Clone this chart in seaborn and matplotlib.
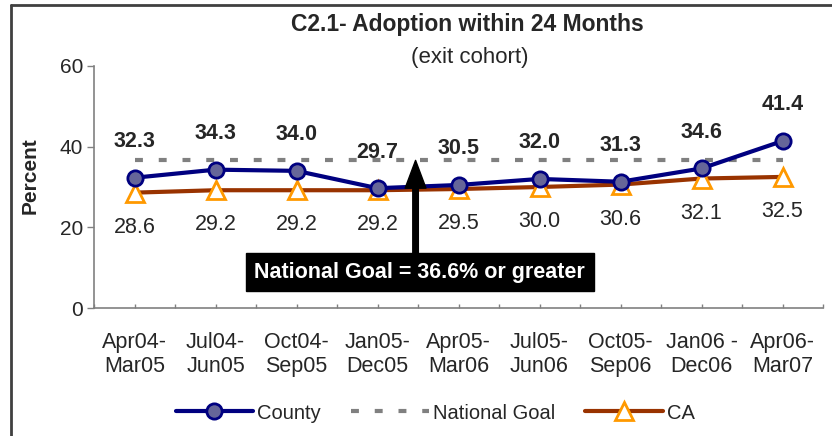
import matplotlib
matplotlib.use("Agg")
import matplotlib.pyplot as plt
import seaborn as sns
import pandas as pd
from matplotlib.lines import Line2D

categories = ["Apr04-\nMar05", "Jul04-\nJun05", "Oct04-\nSep05", "Jan05-\nDec05",
              "Apr05-\nMar06", "Jul05-\nJun06", "Oct05-\nSep06", "Jan06 -\nDec06",
              "Apr06-\nMar07"]
county = [32.3, 34.3, 34.0, 29.7, 30.5, 32.0, 31.3, 34.6, 41.4]
ca = [28.6, 29.2, 29.2, 29.2, 29.5, 30.0, 30.6, 32.1, 32.5]
national_goal = [36.6] * 9
yticks = [0, 20, 40, 60]

sns.set_theme(style="white")
plt.rcParams['font.family'] = ['Liberation Sans', 'DejaVu Sans']

df = pd.DataFrame({"x": range(len(categories)), "County": county,
                   "National Goal": national_goal, "CA": ca})

fig = plt.figure(figsize=(8.32, 4.36), dpi=100)
ax = fig.add_axes([94/832, 1-308/436, (823-94)/832, (308-66)/436])

goal_style = (0, (1.9, 3.8))
sns.lineplot(data=df, x="x", y="National Goal", ax=ax, color="#808080", lw=3,
             linestyle=goal_style, label="National Goal", zorder=2)
sns.lineplot(data=df, x="x", y="CA", ax=ax, color="#993300", lw=3, marker="^",
             markersize=13, markerfacecolor="white", markeredgecolor="#FF9900",
             markeredgewidth=2, label="CA", zorder=3)
sns.lineplot(data=df, x="x", y="County", ax=ax, color="#000080", lw=3, marker="o",
             markersize=11, markerfacecolor="#666699", markeredgecolor="#000080",
             markeredgewidth=2, label="County", zorder=4)

for i, v in enumerate(county):
    ax.annotate(f"{v:.1f}", (i, v), xytext=(0, 26), textcoords="offset points",
                ha="center", va="center", fontsize=15.5, fontweight="bold")
for i, v in enumerate(ca):
    ax.annotate(f"{v:.1f}", (i, v), xytext=(0, -25), textcoords="offset points",
                ha="center", va="center", fontsize=15.5)

ax.set_xlim(-0.5, len(categories) - 0.5)
ax.set_ylim(0, 60)
ax.set_yticks(yticks)
ax.set_xticks(range(len(categories)))
ax.set_xticklabels(categories, fontsize=15.5, linespacing=1.2)
ax.set_xticks([i + 0.5 for i in range(-1, len(categories))], minor=True)
ax.tick_params(axis="x", which="both", direction="in", length=3, width=1,
               color="#808080", pad=17, bottom=True)
ax.tick_params(axis="y", direction="out", length=5, width=1, color="#808080",
               labelsize=15, pad=3, left=True)
ax.set_xlabel("")
ax.set_ylabel("")
for s in ["top", "right"]:
    ax.spines[s].set_visible(False)
for s in ["left", "bottom"]:
    ax.spines[s].set_color("#808080")
    ax.spines[s].set_linewidth(1.2)
ax.grid(False)

# National goal annotation
ax.annotate("", xy=(3.47, 36.6), xytext=(3.47, 13.6),
            arrowprops=dict(facecolor="black", edgecolor="black", width=4,
                            headwidth=15, headlength=20, shrink=0), zorder=5)
ax.text(3.52, 8.9, "National Goal = 36.6% or greater", ha="center", va="center",
        fontsize=15.5, fontweight="bold", color="white", zorder=6,
        bbox=dict(boxstyle="square,pad=0.4", facecolor="black", edgecolor="black"))

if ax.get_legend() is not None:
    ax.get_legend().remove()

handles = [
    Line2D([], [], color="#000080", lw=3, marker="o", markersize=11,
           markerfacecolor="#666699", markeredgecolor="#000080", markeredgewidth=2),
    Line2D([], [], color="#808080", lw=3, linestyle=goal_style),
    Line2D([], [], color="#993300", lw=3, marker="^", markersize=13,
           markerfacecolor="white", markeredgecolor="#FF9900", markeredgewidth=2),
]
fig.legend(handles, ["County", "National Goal", "CA"], loc="center",
           bbox_to_anchor=(435/832, 1-413/436), ncol=3, frameon=False,
           fontsize=14.5, handlelength=3.85, columnspacing=1.5, handletextpad=0.2)

fig.text(467/832, 1-24/436, "C2.1- Adoption within 24 Months", ha="center",
         va="center", fontsize=16.5, fontweight="bold")
fig.text(470/832, 1-57/436, "(exit cohort)", ha="center", va="center", fontsize=16)
fig.text(30/832, 1-176/436, "Percent", rotation=90, ha="center", va="center",
         fontsize=15, fontweight="bold")

# partial frame
fig.add_artist(Line2D([11/832, 11/832], [0, 1-5/436], transform=fig.transFigure,
                      color="#404040", lw=2))
fig.add_artist(Line2D([11/832, 1], [1-5/436, 1-5/436], transform=fig.transFigure,
                      color="#404040", lw=2))

fig.savefig("out.png", dpi=100)
